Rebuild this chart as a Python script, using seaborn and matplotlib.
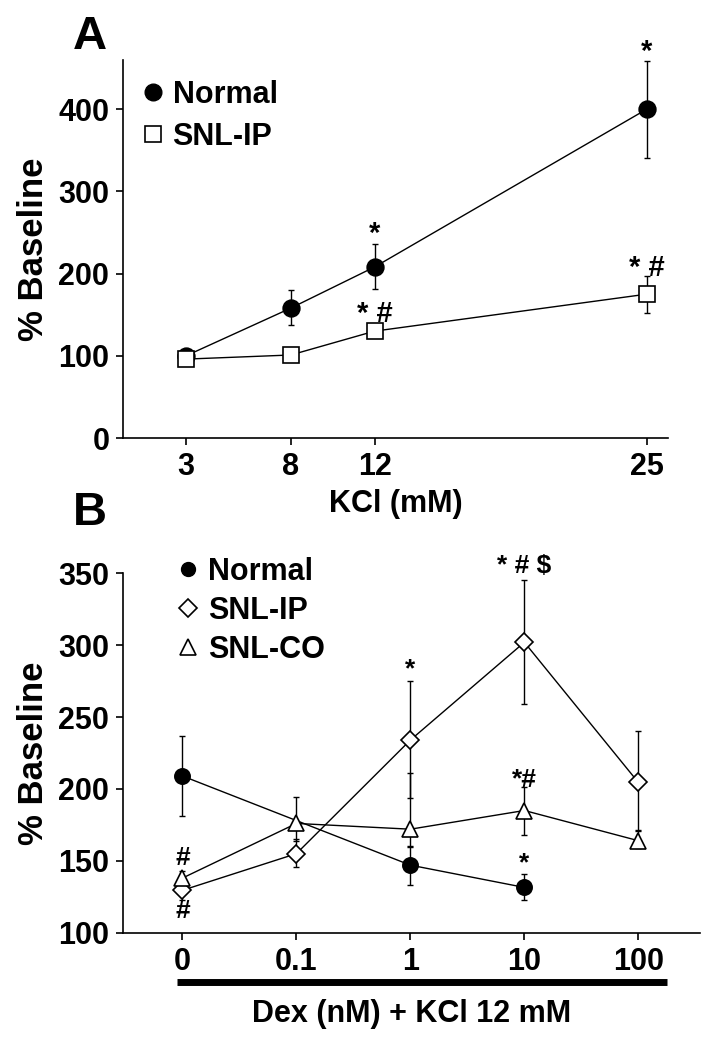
import numpy as np
import pandas as pd
import matplotlib
matplotlib.use("Agg")
import matplotlib.pyplot as plt
from matplotlib.lines import Line2D
import seaborn as sns

# ---------------- Data: panel A ----------------
kcl = [3, 8, 12, 25]
a_normal = [100, 158, 208, 400]
a_normal_lo = [4, 21, 27, 59]
a_normal_hi = [4, 22, 28, 59]
a_snl = [96, 101, 130, 175]
a_snl_lo = [3, 4, 6, 23]
a_snl_hi = [3, 4, 6, 22]
a_notes = [(12, 248, "*"), (25, 470, "*"), (12, 151, "* #"), (25, 207, "* #")]

# ---------------- Data: panel B ----------------
dex_labels = ["0", "0.1", "1", "10", "100"]
b_normal_pos = [0, 2, 3]
b_normal = [209, 147, 131.5]
b_normal_lo = [27.5, 13.5, 9]
b_normal_hi = [27.5, 12.5, 9]
b_ip = [129.5, 155, 234, 302, 204.5]
b_ip_lo = [6.5, 9.5, 40, 43, 33]
b_ip_hi = [6, 10, 41, 43, 36]
b_co = [138, 176, 172, 185, 164]
b_co_lo = [4, 12, 12, 17, 5]
b_co_hi = [5, 18.5, 39, 16, 6.5]
b_notes = [(3, 355, "* # $"), (2, 283, "*"), (3, 206.5, "*#"), (3, 148.6, "*"),
           (0, 152, "#"), (0, 115, "#")]

sns.set_style("ticks")
plt.rcParams["font.family"] = ["Liberation Sans", "DejaVu Sans"]
plt.rcParams["font.weight"] = "bold"
for k in ["text.color", "axes.labelcolor", "xtick.color", "ytick.color", "axes.edgecolor"]:
    plt.rcParams[k] = "black"

fig = plt.figure(figsize=(7.12, 10.48), dpi=100)
axA = fig.add_axes([0.173, 0.582, 0.765, 0.361])
axB = fig.add_axes([0.173, 0.110, 0.810, 0.343])

FS = 22
lw = 1.0


def series(ax, x, y, lo, hi, marker, fc, ms, label, z):
    df = pd.DataFrame({"x": x, "y": y})
    ax.errorbar(x, y, yerr=[lo, hi], fmt="none", ecolor="black", elinewidth=1.0,
                capsize=2.5, capthick=1.0, zorder=z)
    sns.lineplot(data=df, x="x", y="y", ax=ax, color="black", linewidth=lw,
                 marker=marker, markersize=ms, markerfacecolor=fc,
                 markeredgecolor="black", markeredgewidth=1.2, zorder=z + 0.5,
                 label=label, legend=False, sort=False)


# ---------- Panel A ----------
series(axA, kcl, a_normal, a_normal_lo, a_normal_hi, "o", "black", 12, "Normal", 3)
series(axA, kcl, a_snl, a_snl_lo, a_snl_hi, "s", "white", 12, "SNL-IP", 4)
axA.set_xlim(0, 26)
axA.set_ylim(0, 460)
axA.set_xticks(kcl)
axA.set_yticks([0, 100, 200, 300, 400])
axA.set_xlabel("KCl (mM)", fontsize=FS, fontweight="bold", labelpad=5)
axA.set_ylabel("% Baseline", fontsize=25, fontweight="bold", labelpad=6)
for x, y, t in a_notes:
    axA.text(x, y, t, ha="center", va="center", fontsize=21, fontweight="bold",
             clip_on=False)
axA.text(-0.092, 1.06, "A", transform=axA.transAxes, fontsize=34,
         fontweight="bold", ha="left", va="center")
hA = [Line2D([], [], marker="o", ls="none", color="black", markersize=12),
      Line2D([], [], marker="s", ls="none", markerfacecolor="white",
             markeredgecolor="black", markersize=12, markeredgewidth=1.2)]
axA.legend(hA, ["Normal", "SNL-IP"], loc="upper left", bbox_to_anchor=(0.015, 0.98),
           frameon=False, handlelength=0.6, handletextpad=0.35,
           labelspacing=0.4, borderaxespad=0, prop={"weight": "bold", "size": FS})

# ---------- Panel B ----------
pos = list(range(len(dex_labels)))
series(axB, b_normal_pos, b_normal, b_normal_lo, b_normal_hi, "o", "black", 11, "Normal", 3)
series(axB, pos, b_ip, b_ip_lo, b_ip_hi, "D", "white", 9, "SNL-IP", 4)
series(axB, pos, b_co, b_co_lo, b_co_hi, "^", "white", 12, "SNL-CO", 5)
axB.set_xlim(-0.52, 4.54)
axB.set_ylim(100, 350)
axB.set_xticks(pos)
axB.set_xticklabels(dex_labels)
axB.set_yticks([100, 150, 200, 250, 300, 350])
axB.set_xlabel("Dex (nM) + KCl 12 mM", fontsize=FS, fontweight="bold", labelpad=16)
axB.set_ylabel("% Baseline", fontsize=25, fontweight="bold", labelpad=6)
for x, y, t in b_notes:
    axB.text(x, y, t, ha="center", va="center", fontsize=19, fontweight="bold",
             clip_on=False)
bar = axB.plot([-0.05, 4.25], [-0.138, -0.138], transform=axB.get_xaxis_transform(),
               color="black", linewidth=5, solid_capstyle="butt", clip_on=False)
axB.text(-0.087, 1.167, "B", transform=axB.transAxes, fontsize=34,
         fontweight="bold", ha="left", va="center")
hB = [Line2D([], [], marker="o", ls="none", color="black", markersize=10),
      Line2D([], [], marker="D", ls="none", markerfacecolor="white",
             markeredgecolor="black", markersize=9, markeredgewidth=1.2),
      Line2D([], [], marker="^", ls="none", markerfacecolor="white",
             markeredgecolor="black", markersize=11, markeredgewidth=1.2)]
axB.legend(hB, ["Normal", "SNL-IP", "SNL-CO"], loc="upper left",
           bbox_to_anchor=(0.076, 1.08), frameon=False, handlelength=0.6,
           handletextpad=0.35, labelspacing=0.3, borderaxespad=0,
           prop={"weight": "bold", "size": FS})

for ax in (axA, axB):
    sns.despine(ax=ax)
    ax.spines["left"].set_linewidth(1.2)
    ax.spines["bottom"].set_linewidth(1.2)
    ax.tick_params(axis="both", direction="out", length=5, width=1.2,
                   labelsize=FS, pad=5, colors="black")
    for lab in ax.get_xticklabels() + ax.get_yticklabels():
        lab.set_fontweight("bold")

fig.savefig("out.png", dpi=100)
